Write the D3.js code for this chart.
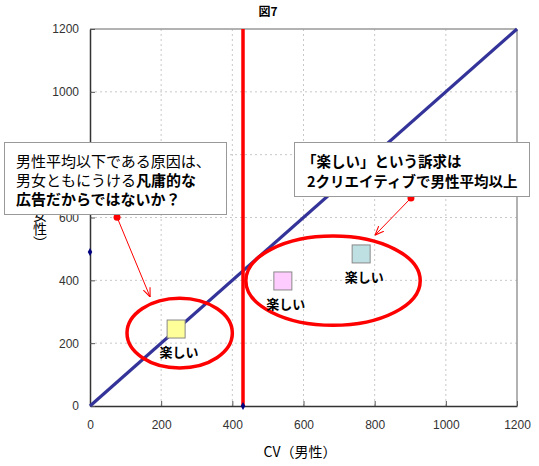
<!DOCTYPE html>
<html><head><meta charset="utf-8">
<script src="https://cdn.jsdelivr.net/npm/d3@7"></script>
<style>
body{margin:0;background:#fff;}
svg{display:block;font-family:"Noto Sans CJK JP","Liberation Sans",sans-serif;}
</style></head>
<body>
<svg id="c" width="539" height="466"></svg>
<script>
// ---- data ----
const xTicks = [0,200,400,600,800,1000,1200];
const yTicks = [0,200,400,600,800,1000,1200];
const categories = ["楽しい","楽しい","楽しい"];
const cvMale = [242, 542, 762];
const cvFemale = [245, 398, 484];
const markerFill = ["#ffff99","#ffccff","#bfe0e2"];
const diagonalX = [0, 1200];
const diagonalY = [0, 1200];
const maleAvg = 430;
const femaleAvg = 490;
const titleText = "図7";
const xLabel = "CV（男性）";
const yLabel = "（女性）";

const svg = d3.select("#c");
const m = {l:90, r:22, t:29, b:60};
const W = 539, H = 466;
const x = d3.scaleLinear().domain([0,1200]).range([m.l, W-m.r]);
const y = d3.scaleLinear().domain([0,1200]).range([H-m.b, m.t]);
const fmt = d3.format("d");

// grid
const g = svg.append("g");
g.selectAll(".gx").data(xTicks.slice(1,-1)).enter().append("line")
 .attr("x1",d=>x(d)).attr("x2",d=>x(d)).attr("y1",y(0)).attr("y2",y(1200))
 .attr("stroke","#c8c8c8").attr("stroke-dasharray","2,3");
g.selectAll(".gy").data(yTicks.slice(1,-1)).enter().append("line")
 .attr("y1",d=>y(d)).attr("y2",d=>y(d)).attr("x1",x(0)).attr("x2",x(1200))
 .attr("stroke","#c8c8c8").attr("stroke-dasharray","2,3");

// frame top/right
svg.append("line").attr("x1",x(0)).attr("x2",x(1200)).attr("y1",y(1200)).attr("y2",y(1200)).attr("stroke","#999").attr("stroke-width",1.5);
svg.append("line").attr("x1",x(1200)).attr("x2",x(1200)).attr("y1",y(0)).attr("y2",y(1200)).attr("stroke","#999").attr("stroke-width",1.5);

// axes
const xAxis = svg.append("g").attr("transform",`translate(0,${y(0)})`)
 .call(d3.axisBottom(x).tickValues(xTicks).tickFormat(fmt).tickSize(-5).tickPadding(14).tickSizeOuter(0));
const yAxis = svg.append("g").attr("transform",`translate(${x(0)},0)`)
 .call(d3.axisLeft(y).tickValues(yTicks).tickFormat(fmt).tickSize(-5).tickPadding(11).tickSizeOuter(0));
[xAxis,yAxis].forEach(a=>{
  a.select(".domain").attr("stroke","#333").attr("stroke-width",1.5);
  a.selectAll(".tick line").attr("stroke","#555");
  a.selectAll("text").attr("font-size",12).attr("fill","#333")
   .attr("font-family","'Liberation Sans',Arial,sans-serif");
});

// diagonal
svg.append("path").datum(diagonalX.map((d,i)=>[d,diagonalY[i]]))
 .attr("d", d3.line().x(d=>x(d[0])).y(d=>y(d[1])))
 .attr("stroke","#333399").attr("stroke-width",3.2).attr("fill","none");

// male average line
svg.append("line").attr("x1",x(maleAvg)).attr("x2",x(maleAvg)).attr("y1",y(0)).attr("y2",y(1200))
 .attr("stroke","#ff0000").attr("stroke-width",3.5);
// avg markers
svg.append("path").attr("d",d3.symbol(d3.symbolDiamond,18)()).attr("transform",`translate(${x(maleAvg)},${y(0)})`).attr("fill","#000080");
svg.append("path").attr("d",d3.symbol(d3.symbolDiamond,18)()).attr("transform",`translate(${x(0)},${y(femaleAvg)})`).attr("fill","#000080");

// ellipses (annotations in data units)
const ellipses = [{cx:252,cy:232,rx:148,ry:111},{cx:683,cy:399,rx:245,ry:142}];
svg.selectAll(".el").data(ellipses).enter().append("ellipse")
 .attr("cx",d=>x(d.cx)).attr("cy",d=>y(d.cy))
 .attr("rx",d=>x(d.rx)-x(0)).attr("ry",d=>y(0)-y(d.ry))
 .attr("fill","none").attr("stroke","#ff0000").attr("stroke-width",3.5);

// points
const pts = cvMale.map((v,i)=>({x:v,y:cvFemale[i],c:markerFill[i],t:categories[i]}));
svg.selectAll(".pt").data(pts).enter().append("rect")
 .attr("x",d=>x(d.x)-9).attr("y",d=>y(d.y)-9).attr("width",18).attr("height",18)
 .attr("fill",d=>d.c).attr("stroke","#888").attr("stroke-width",1);
svg.selectAll(".lb").data(pts).enter().append("text")
 .attr("x",d=>x(d.x)+3).attr("y",d=>y(d.y)+28).attr("text-anchor","middle")
 .attr("font-size",13).attr("font-weight","bold").attr("fill","#000").text(d=>d.t);

// arrows
const defs = svg.append("defs");
defs.append("marker").attr("id","ah").attr("viewBox","0 0 10 10").attr("refX",10).attr("refY",5)
 .attr("markerWidth",9).attr("markerHeight",9).attr("orient","auto")
 .append("path").attr("d","M0,1 L10,5 L0,9").attr("fill","none").attr("stroke","#ff0000").attr("stroke-width",1.2);
const arrows = [{x1:76,y1:601,x2:169,y2:347},{x1:902,y1:662,x2:801,y2:544}];
svg.selectAll(".ar").data(arrows).enter().append("line")
 .attr("x1",d=>x(d.x1)).attr("y1",d=>y(d.y1)).attr("x2",d=>x(d.x2)).attr("y2",d=>y(d.y2))
 .attr("stroke","#ff0000").attr("stroke-width",1).attr("marker-end","url(#ah)");
svg.selectAll(".ad").data(arrows).enter().append("circle")
 .attr("cx",d=>x(d.x1)).attr("cy",d=>y(d.y1)).attr("r",3.5).attr("fill","#ff0000");

// y label (vertical)
svg.append("text").attr("x",40).attr("y",(y(0)+y(1200))/2 + 4)
 .attr("text-anchor","middle").attr("font-size",14).attr("fill","#000")
 .style("writing-mode","vertical-rl").style("text-orientation","mixed")
 .text(yLabel);

// callout boxes
svg.append("rect").attr("x",4.5).attr("y",142.5).attr("width",222).attr("height",72)
 .attr("fill","#fff").attr("stroke","#999").attr("stroke-width",1);
const t1 = svg.append("g").attr("font-size",15).attr("fill","#000");
t1.append("text").attr("x",16).attr("y",167).text("男性平均以下である原因は、");
const l2 = t1.append("text").attr("x",16).attr("y",186);
l2.append("tspan").text("男女ともにうける");
l2.append("tspan").attr("font-weight","bold").text("凡庸的な");
t1.append("text").attr("x",16).attr("y",205).attr("font-weight","bold").text("広告だからではないか？");

svg.append("rect").attr("x",294.5).attr("y",142.5).attr("width",235).attr("height",54)
 .attr("fill","#fff").attr("stroke","#999").attr("stroke-width",1);
const t2 = svg.append("g").attr("font-size",14.5).attr("fill","#000").attr("font-weight","bold");
t2.append("text").attr("x",302).attr("y",167).text("「楽しい」という訴求は");
t2.append("text").attr("x",307).attr("y",187).text("2クリエイティブで男性平均以上");

// title & x label
svg.append("text").attr("x",268).attr("y",16).attr("text-anchor","middle").attr("font-size",12)
 .attr("font-weight","bold").text(titleText);
svg.append("text").attr("x",300).attr("y",457).attr("text-anchor","middle").attr("font-size",14)
 .text(xLabel);
</script>
</body></html>
